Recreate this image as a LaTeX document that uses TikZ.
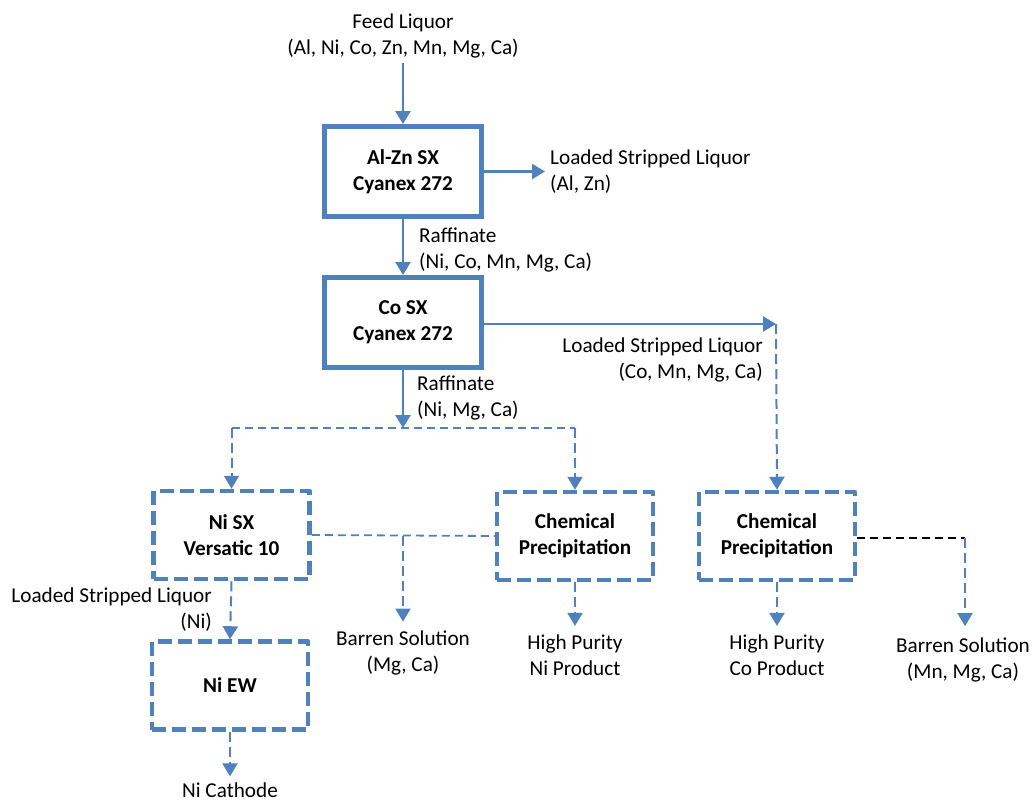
\documentclass[tikz,border=0pt]{standalone}
\usepackage{fontspec}
\setmainfont{Carlito}
\usetikzlibrary{arrows.meta,calc}
\definecolor{flowblue}{HTML}{4F81BD}
\begin{document}
\begin{tikzpicture}[x=1pt,y=-1pt,
  txt/.style={font=\fontsize{21.2}{26}\selectfont, align=center, inner sep=0pt},
  ltxt/.style={txt, align=left, anchor=west},
  rtxt/.style={txt, align=right, anchor=east},
  solidbox/.style={draw=flowblue, line width=5pt, minimum width=157pt, minimum height=90pt, font=\fontsize{21.2}{26}\selectfont\bfseries, align=center},
  dashbox/.style={draw=flowblue, line width=4.5pt, dash pattern=on 14pt off 6pt, line join=round, minimum width=156pt, minimum height=88pt, font=\fontsize{21.2}{26}\selectfont\bfseries, align=center},
  flow/.style={draw=flowblue, line width=2.5pt, -{Triangle[length=13pt,width=15pt]}},
  dflow/.style={draw=flowblue, line width=2pt, dash pattern=on 10pt off 5pt, -{Triangle[length=13pt,width=15pt]}},
  dline/.style={draw=flowblue, line width=1.8pt, dash pattern=on 8pt off 5pt},
  kline/.style={draw=black, line width=1.6pt, dash pattern=on 8pt off 5pt}
]
\useasboundingbox (0,0) rectangle (1036,801);

% nodes
\node[txt] (feed) at (403,36) {Feed Liquor\\(Al, Ni, Co, Zn, Mn, Mg, Ca)};
\node[solidbox] (b1) at (403,171.5) {Al-Zn SX\\Cyanex 272};
\node[ltxt] (lsl1) at (550,171.5) {Loaded Stripped Liquor\\(Al, Zn)};
\node[ltxt] (raff1) at (419,249.5) {Raffinate\\(Ni, Co, Mn, Mg, Ca)};
\node[solidbox] (b2) at (403,322.5) {Co SX\\Cyanex 272};
\node[rtxt] (lsl2) at (763,360) {Loaded Stripped Liquor\\(Co, Mn, Mg, Ca)};
\node[ltxt] (raff2) at (417,398) {Raffinate\\(Ni, Mg, Ca)};

\node[dashbox] (nisx) at (231.5,535) {Ni SX\\Versatic 10};
\node[dashbox] (cp1) at (575,536) {Chemical\\Precipitation};
\node[dashbox] (cp2) at (777,536) {Chemical\\Precipitation};
\node[rtxt] (lsl3) at (212,609.5) {Loaded Stripped Liquor\\(Ni)};
\node[dashbox] (niew) at (230,685.5) {Ni EW};
\node[txt] (cath) at (230,790) {Ni Cathode};
\node[txt] (barren1) at (403,653) {Barren Solution\\(Mg, Ca)};
\node[txt] (high1) at (575,655.5) {High Purity\\Ni Product};
\node[txt] (high2) at (777,655.5) {High Purity\\Co Product};
\node[txt] (barren2) at (963,659.5) {Barren Solution\\(Mn, Mg, Ca)};

% junction coordinates
\coordinate (c1) at (776,324);
\coordinate (j1) at (403,428);
\coordinate (jl) at (231.5,428);
\coordinate (jr) at (575,428);
\coordinate (j2) at (403,535.5);
\coordinate (j3) at (965,538);

% solid connectors
\draw[flow, shorten <=5pt] (b1.north |- feed.south) -- (b1.north);
\draw[flow, shorten >=5pt] (b1.east |- lsl1.west) -- (lsl1.west);
\draw[flow] (b1.south) -- (b2.north);
\draw[flow] (b2.east |- c1) -- (c1);
\draw[flow] (b2.south) -- (j1);

% dashed connectors
\draw[dflow] (c1) -- (cp2.north);
\draw[dline] (jl) -- (jr);
\draw[dflow] (jl) -- (nisx.north);
\draw[dflow] (jr) -- (cp1.north);
\draw[dflow] (nisx.south) -- (niew.north);
\draw[dflow, shorten >=6pt] (niew.south) -- (cath.north);
\draw[dline] (nisx.east) -- (cp1.west);
\draw[dflow, shorten >=9pt] (j2) -- (barren1.north);
\draw[dflow, shorten >=9pt] (cp1.south) -- (high1.north);
\draw[dflow, shorten >=9pt] (cp2.south) -- (high2.north);
\draw[kline] (cp2.east |- j3) -- (j3);
\draw[dflow, shorten >=11pt] (j3) -- (j3 |- barren2.north);
\end{tikzpicture}
\end{document}
